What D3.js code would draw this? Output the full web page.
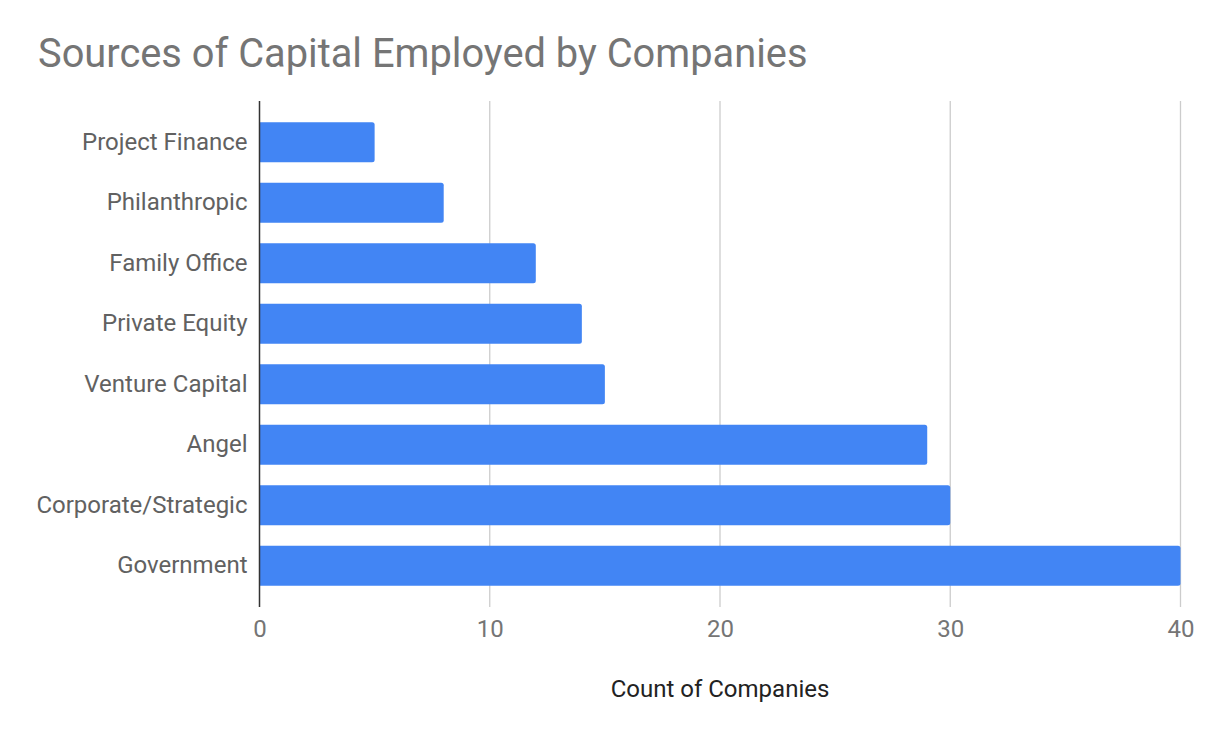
<!DOCTYPE html>
<html>
<head>
<meta charset="utf-8">
<script src="https://cdn.jsdelivr.net/npm/d3@7"></script>
<style>
  html, body { margin: 0; padding: 0; background: #fff; }
  svg { display: block; font-family: Roboto, "Noto Sans", sans-serif; }
</style>
</head>
<body>
<svg id="chart" width="1218" height="740"></svg>
<script>
const categories = ["Project Finance", "Philanthropic", "Family Office", "Private Equity",
                    "Venture Capital", "Angel", "Corporate/Strategic", "Government"];
const counts = [5, 8, 12, 14, 15, 29, 30, 40];
const xTicks = [0, 10, 20, 30, 40];
const chartTitle = "Sources of Capital Employed by Companies";
const xAxisTitle = "Count of Companies";

const svg = d3.select("#chart");
const plot = { left: 259.5, right: 1180.5, top: 101, bottom: 607 };

const x = d3.scaleLinear().domain([0, 40]).range([plot.left, plot.right]);
const y = d3.scaleBand().domain(categories).range([plot.top, plot.bottom])
  .paddingInner(0.34).paddingOuter(0.352);

// title
svg.append("text")
  .attr("x", 38).attr("y", 67)
  .attr("font-size", 39.8)
  .attr("fill", "#757575")
  .text(chartTitle);

// gridlines
svg.append("g").selectAll("line")
  .data(xTicks.filter(d => d !== 0))
  .join("line")
  .attr("x1", d => x(d)).attr("x2", d => x(d))
  .attr("y1", plot.top).attr("y2", plot.bottom)
  .attr("stroke", "#cccccc").attr("stroke-width", 1.3);

// bars (rounded right end)
const r = 2.5;
svg.append("g").selectAll("path")
  .data(categories.map((c, i) => ({ c, v: counts[i] })))
  .join("path")
  .attr("fill", "#4285f4")
  .attr("d", d => {
    const x0 = x(0), x1 = x(d.v), y0 = y(d.c), h = y.bandwidth();
    return `M${x0},${y0}H${x1 - r}Q${x1},${y0} ${x1},${y0 + r}V${y0 + h - r}Q${x1},${y0 + h} ${x1 - r},${y0 + h}H${x0}Z`;
  });

// baseline axis
svg.append("line")
  .attr("x1", x(0)).attr("x2", x(0))
  .attr("y1", plot.top).attr("y2", plot.bottom)
  .attr("stroke", "#333333").attr("stroke-width", 1.5);

// x axis tick labels via d3 axis
const xAxis = d3.axisBottom(x).tickValues(xTicks).tickSize(0).tickPadding(0);
const gx = svg.append("g").attr("transform", `translate(0,${plot.bottom + 13})`).call(xAxis);
gx.select(".domain").remove();
gx.selectAll("text")
  .attr("font-family", "Roboto, 'Noto Sans', sans-serif")
  .attr("font-size", 24).attr("fill", "#757575")
  .attr("dy", "0.71em");

// y axis category labels via d3 axis
const yAxis = d3.axisLeft(y).tickSize(0).tickPadding(12);
const gy = svg.append("g").attr("transform", `translate(${x(0)},0)`).call(yAxis);
gy.select(".domain").remove();
gy.selectAll("text")
  .attr("font-family", "Roboto, 'Noto Sans', sans-serif")
  .attr("font-size", 24).attr("fill", "#616161");

// x axis title
svg.append("text")
  .attr("x", (plot.left + plot.right) / 2).attr("y", 697)
  .attr("text-anchor", "middle")
  .attr("font-size", 24).attr("fill", "#222222")
  .text(xAxisTitle);
</script>
</body>
</html>
